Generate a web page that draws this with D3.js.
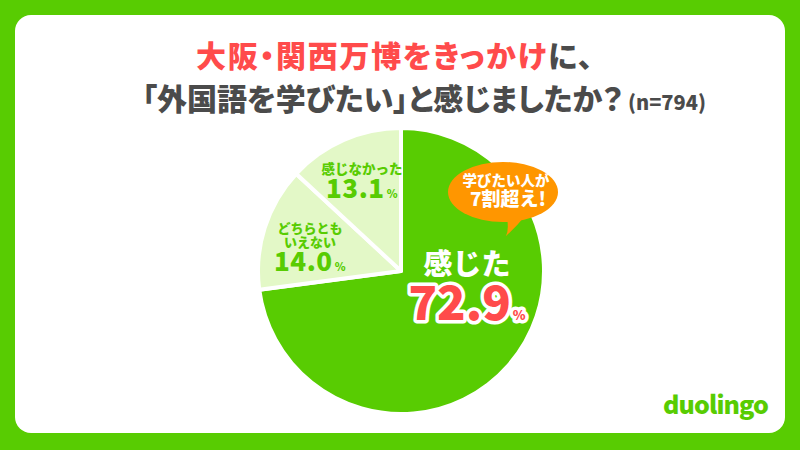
<!DOCTYPE html>
<html>
<head>
<meta charset="utf-8">
<script src="https://cdn.jsdelivr.net/npm/d3@7"></script>
<style>
  html, body { margin: 0; padding: 0; background: #58CC02; }
  svg { display: block; }
  text { font-family: "Noto Sans CJK JP", "Noto Sans", sans-serif; }
  .palt { font-feature-settings: "palt"; }
</style>
</head>
<body>
<svg id="chart" width="800" height="450"></svg>
<script>
// ---- data ----
const categories = ["感じた", "どちらともいえない", "感じなかった"];
const values = [72.9, 14.0, 13.1];
const labelLines = [["感じた"], ["どちらとも", "いえない"], ["感じなかった"]];
const titleRed = "大阪・関西万博をきっかけ";
const titleDark1 = "に、";
const titleLine2 = "「外国語を学びたい」と感じましたか？";
const sampleNote = "(n=794)";
const bubbleLines = ["学びたい人が", "7割超え!"];
const brand = "duolingo";

// ---- colours ----
const GREEN = "#58CC02", LIGHT = "#E3F8C7", RED = "#FF4B4B", DARK = "#4B4B4B", ORANGE = "#FF9600";

const svg = d3.select("#chart");
const W = 800, H = 450;

// background card
svg.append("rect").attr("width", W).attr("height", H).attr("fill", GREEN);
svg.append("rect").attr("x", 15).attr("y", 15).attr("width", 770).attr("height", 418)
  .attr("rx", 16).attr("fill", "#fff");

// title
const t1 = svg.append("text").attr("class", "palt").attr("x", 196).attr("y", 67)
  .attr("font-size", 30).attr("font-weight", 900).attr("letter-spacing", 1.7);
t1.append("tspan").attr("fill", RED).text(titleRed);
t1.append("tspan").attr("fill", DARK).text(titleDark1);

const t2 = svg.append("text").attr("class", "palt").attr("x", 142).attr("y", 110)
  .attr("font-size", 30).attr("font-weight", 900).attr("fill", DARK);
t2.append("tspan").text(titleLine2);
t2.append("tspan").attr("font-size", 20).attr("dx", 5).text(sampleNote);

// pie
const cx = 401, cy = 271, R = 143;
const pie = d3.pie().value(d => d).sort(null);
const arcs = pie(values);
const arc = d3.arc().innerRadius(0).outerRadius(R);
const colors = d3.scaleOrdinal().domain(categories).range([GREEN, LIGHT, LIGHT]);

const g = svg.append("g").attr("transform", `translate(${cx},${cy})`);
g.selectAll("path.slice").data(arcs).join("path")
  .attr("class", "slice")
  .attr("d", arc)
  .attr("fill", (d, i) => colors(categories[i]))
  .attr("stroke", "#fff").attr("stroke-width", 4).attr("stroke-linejoin", "round");

// labels (positions relative to pie centre)
const fmt = d3.format(".1f");
const labelLayout = [
  { x: 66, nameY: 4, nameSize: 29, lineGap: 0, nameFill: "#fff", valY: 49, valSize: 47, valFill: RED, outline: true, pctSize: 13, ls: 0 },
  { x: -91, nameY: -38, nameSize: 13, lineGap: 13.5, nameFill: GREEN, valY: 0, valSize: 26, valFill: GREEN, outline: false, pctSize: 11, ls: 0.5 },
  { x: -39, nameY: -97, nameSize: 13.5, lineGap: 0, nameFill: GREEN, valY: -73, valSize: 26, valFill: GREEN, outline: false, pctSize: 11, ls: 0.5 }
];

labelLayout.forEach((L, i) => {
  labelLines[i].forEach((ln, j) => {
    g.append("text").attr("x", L.x).attr("y", L.nameY + j * L.lineGap)
      .attr("text-anchor", "middle").attr("font-size", L.nameSize).attr("font-weight", 900)
      .attr("fill", L.nameFill).text(ln);
  });
  const vt = g.append("text").attr("x", L.x).attr("y", L.valY)
    .attr("text-anchor", "middle").attr("font-weight", 900).attr("fill", L.valFill)
    .attr("letter-spacing", L.ls);
  if (L.outline) {
    vt.attr("stroke", "#fff").attr("stroke-width", 7).attr("paint-order", "stroke").attr("stroke-linejoin", "round");
  }
  vt.append("tspan").attr("font-size", L.valSize).text(fmt(values[i]));
  vt.append("tspan").attr("font-size", L.pctSize).attr("dx", 2).text("%");
});

// speech bubble
const bx = 503, by = 192, brx = 55, bry = 30;
const bub = svg.append("g");
bub.append("path")
  .attr("d", `M${bx + 4},${by + bry - 4} Q${bx + 6},${by + bry + 8} ${bx + 3},${by + bry + 14} Q${bx + 14},${by + bry + 4} ${bx + 22},${by + bry - 6} Z`)
  .attr("fill", ORANGE);
bub.append("ellipse").attr("cx", bx).attr("cy", by).attr("rx", brx).attr("ry", bry).attr("fill", ORANGE);
bub.append("text").attr("x", bx + 3).attr("y", 186).attr("text-anchor", "middle")
  .attr("font-size", 14.5).attr("font-weight", 900).attr("fill", "#fff").text(bubbleLines[0]);
bub.append("text").attr("x", bx + 5).attr("y", 206).attr("text-anchor", "middle")
  .attr("font-size", 19).attr("font-weight", 900).attr("fill", "#fff").text(bubbleLines[1]);

// brand
svg.append("text").attr("x", 663).attr("y", 414)
  .attr("font-family", "Lato, 'Noto Sans', sans-serif").attr("font-size", 25).attr("font-weight", 900)
  .attr("fill", GREEN).attr("textLength", 106).text(brand);
</script>
</body>
</html>
